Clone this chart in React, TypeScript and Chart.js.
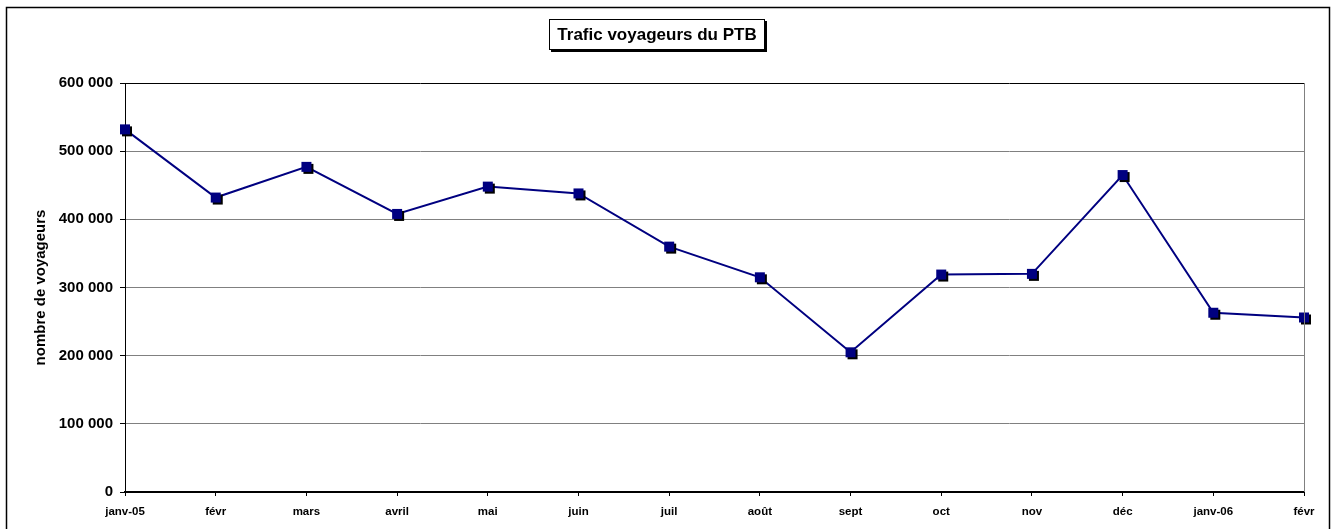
import React, { useEffect, useRef } from "react";
import { Chart, registerables } from "chart.js";

Chart.register(...registerables);

const categories: string[] = ["janv-05", "févr", "mars", "avril", "mai", "juin", "juil", "août", "sept", "oct", "nov", "déc", "janv-06", "févr"];
const voyageurs: number[] = [532000, 432000, 477000, 408000, 448000, 438000, 360000, 315000, 205000, 319000, 320000, 465000, 263000, 256000];
const chartTitle = "Trafic voyageurs du PTB";
const yAxisTitle = "nombre de voyageurs";
const yMin = 0;
const yMax = 600000;
const yStep = 100000;

const FONT = '"Liberation Sans", Arial, Helvetica, sans-serif';

function formatThousands(v: number): string {
  return String(Math.round(v)).replace(/\B(?=(\d{3})+(?!\d))/g, " ");
}

function makeMarker(): HTMLCanvasElement {
  const c = document.createElement("canvas");
  c.width = 16;
  c.height = 16;
  const g = c.getContext("2d")!;
  g.fillStyle = "#000000";
  g.fillRect(5, 5, 10, 10);
  g.fillStyle = "#000080";
  g.fillRect(3, 3, 10, 10);
  return c;
}

const framePlugin = {
  id: "frame",
  beforeDraw(chart: any) {
    const ctx = chart.ctx;
    ctx.save();
    ctx.fillStyle = "#ffffff";
    ctx.fillRect(0, 0, chart.width, chart.height);
    ctx.restore();
  },
  afterDraw(chart: any) {
    const ctx = chart.ctx;
    const a = chart.chartArea;
    ctx.save();
    // right border of plot area
    ctx.strokeStyle = "#808080";
    ctx.lineWidth = 1;
    ctx.beginPath();
    ctx.moveTo(Math.round(a.right) + 0.5, a.top);
    ctx.lineTo(Math.round(a.right) + 0.5, a.bottom);
    ctx.stroke();
    // outer frame
    ctx.strokeStyle = "#000000";
    ctx.lineWidth = 1.5;
    ctx.strokeRect(6.5, 7.5, 1323, 540);
    // title box with shadow
    const bx = 549, by = 19, bw = 216, bh = 31;
    ctx.fillStyle = "#000000";
    ctx.fillRect(bx + 2, by + 2, bw, bh);
    ctx.fillStyle = "#ffffff";
    ctx.fillRect(bx, by, bw, bh);
    ctx.strokeStyle = "#000000";
    ctx.lineWidth = 1;
    ctx.strokeRect(bx + 0.5, by + 0.5, bw - 1, bh - 1);
    ctx.fillStyle = "#000000";
    ctx.font = `bold 17px ${FONT}`;
    ctx.textAlign = "center";
    ctx.textBaseline = "middle";
    ctx.fillText(chartTitle, bx + bw / 2, by + bh / 2 + 1);
    ctx.restore();
  },
};

export default function App() {
  const canvasRef = useRef<HTMLCanvasElement | null>(null);

  useEffect(() => {
    document.body.style.margin = "0";
    const canvas = canvasRef.current;
    if (!canvas) return;
    const marker = makeMarker();
    const chart = new Chart(canvas, {
      type: "line",
      data: {
        labels: categories,
        datasets: [
          {
            data: voyageurs,
            borderColor: "#000080",
            backgroundColor: "#000080",
            borderWidth: 2,
            tension: 0,
            pointStyle: marker as any,
            pointRadius: 7,
            clip: false as any,
          },
        ],
      },
      options: {
        responsive: false,
        animation: false,
        devicePixelRatio: 1,
        layout: { padding: { left: 0, right: 32, top: 83, bottom: 0 } },
        plugins: {
          legend: { display: false },
          tooltip: { enabled: false },
          title: { display: false },
        },
        scales: {
          x: {
            type: "category",
            offset: false,
            grid: {
              offset: false,
              drawOnChartArea: false,
              drawTicks: true,
              tickLength: 4,
              tickColor: "#000000",
            },
            border: { color: "#000000", width: 2 },
            ticks: {
              color: "#000000",
              font: { family: FONT, size: 11.5, weight: "bold" },
              maxRotation: 0,
              minRotation: 0,
              autoSkip: false,
              padding: 9,
            },
            afterFit(scale: any) {
              scale.height = 37;
            },
          },
          y: {
            min: yMin,
            max: yMax,
            grid: {
              color: (c: any) => (c.tick && c.tick.value === yMax ? "#000000" : "#808080"),
              lineWidth: 1,
              tickLength: 5,
              tickColor: "#000000",
            },
            border: { color: "#000000", width: 1 },
            ticks: {
              stepSize: yStep,
              color: "#000000",
              font: { family: FONT, size: 15, weight: "bold" },
              padding: 7,
              callback: (v: any) => formatThousands(Number(v)),
            },
            title: {
              display: true,
              text: yAxisTitle,
              color: "#000000",
              font: { family: FONT, size: 15, weight: "bold" },
              padding: { top: 32, bottom: 0 },
            },
            afterFit(scale: any) {
              scale.width = 125;
            },
          },
        },
      },
      plugins: [framePlugin],
    });
    return () => {
      chart.destroy();
    };
  }, []);

  return (
    <div style={{ width: 1336, height: 529 }}>
      <canvas ref={canvasRef} width={1336} height={529} style={{ display: "block", width: 1336, height: 529 }} />
    </div>
  );
}
